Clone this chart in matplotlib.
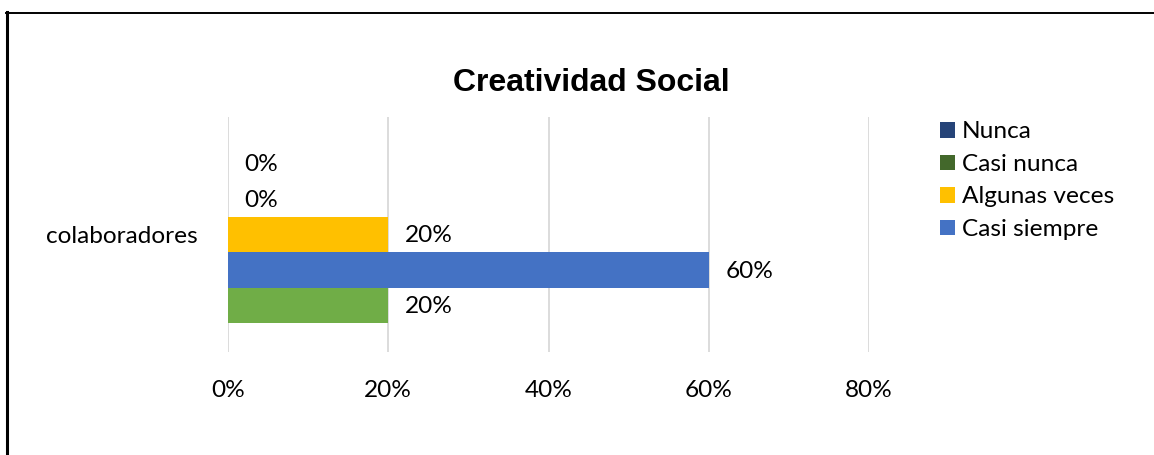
import matplotlib
matplotlib.use("Agg")
import matplotlib.pyplot as plt
from matplotlib.lines import Line2D
from matplotlib.patches import Patch
import numpy as np

category = "colaboradores"
series_names = ["Nunca", "Casi nunca", "Algunas veces", "Casi siempre", "Siempre"]
series_values = [0.0, 0.0, 0.20, 0.60, 0.20]
series_colors = ["#264478", "#43682B", "#FFC000", "#4472C4", "#70AD47"]
legend_names = ["Nunca", "Casi nunca", "Algunas veces", "Casi siempre"]
x_ticks = [0.0, 0.2, 0.4, 0.6, 0.8]
x_tick_labels = ["0%", "20%", "40%", "60%", "80%"]

W, H, DPI = 1154, 455, 100
fig = plt.figure(figsize=(W / DPI, H / DPI), dpi=DPI)
fig.patch.set_facecolor("white")

ax = fig.add_axes([228 / W, 1 - 352 / H, (869 - 228) / W, (352 - 117) / H])

label_font = "Lato"
fs = 17.6
n = len(series_values)
bar_h = 0.755 / n
# first series at the top of the group
offsets = [(n - 1) / 2 - i for i in range(n)]
for i, (name, val, col) in enumerate(zip(series_names, series_values, series_colors)):
    y = offsets[i] * bar_h
    ax.barh(y, val, height=bar_h, color=col, label=name, zorder=3)
    ax.annotate(f"{val * 100:.0f}%", xy=(val, y), xytext=(11.8, -1),
                textcoords="offset points", va="center", ha="left",
                fontsize=fs, family=label_font, color="#000000")

ax.set_xlim(0, 0.8)
ax.set_ylim(-0.5, 0.5)
ax.set_xticks(x_ticks)
ax.set_xticklabels(x_tick_labels, fontsize=fs, family=label_font)
ax.set_yticks([0])
ax.set_yticklabels([category], fontsize=fs, family=label_font)
ax.tick_params(axis="x", length=0, pad=20.5)
ax.tick_params(axis="y", length=0, pad=22)
ax.grid(axis="x", color="#D9D9D9", linewidth=1.3, zorder=0)
for s in ax.spines.values():
    s.set_visible(False)

fig.text(591 / W, 1 - 83 / H, "Creatividad Social", ha="center", va="center",
         fontsize=23, fontweight="bold", family="Liberation Sans")

handles = [Patch(facecolor=c, edgecolor="none") for c in series_colors[:4]]
fig.legend(handles, legend_names, loc="upper left", bbox_to_anchor=(940 / W, 1 - 121.5 / H),
           frameon=False, prop={"family": label_font, "size": fs},
           handlelength=0.6, handleheight=0.6, handletextpad=0.3,
           labelspacing=0.47, borderaxespad=0, borderpad=0)

# outer frame: left and top edges
fig.add_artist(Line2D([6.5 / W, 6.5 / W], [0, 1 - 12 / H], transform=fig.transFigure,
                      color="black", linewidth=2.2))
fig.add_artist(Line2D([5.5 / W, 1], [1 - 12.5 / H, 1 - 12.5 / H], transform=fig.transFigure,
                      color="black", linewidth=1.4))

fig.savefig("out.png", dpi=DPI)
